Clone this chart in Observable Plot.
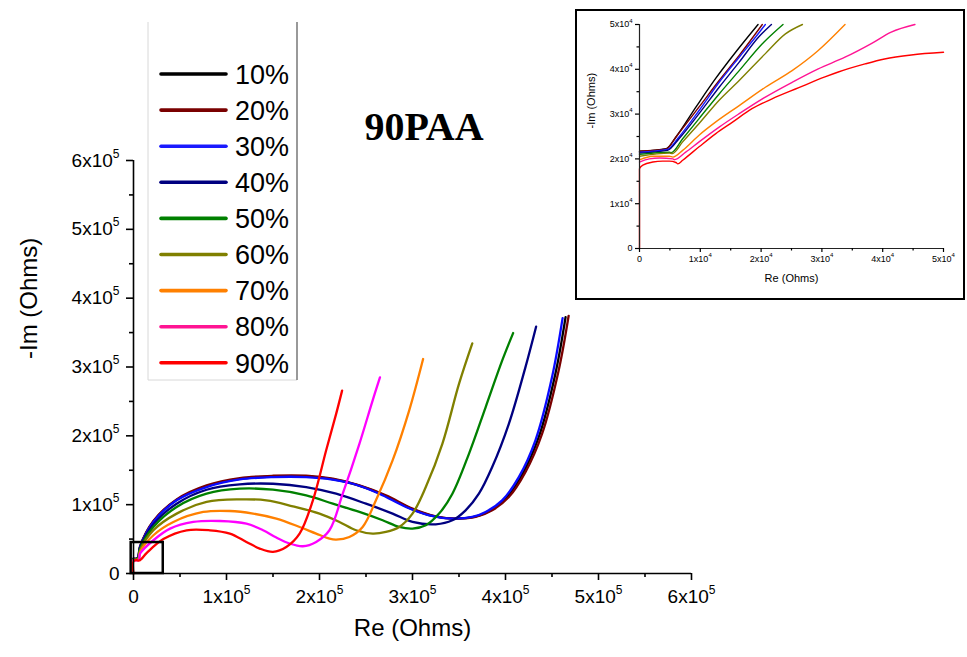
<!DOCTYPE html>
<html><head><meta charset="utf-8">
<script src="https://cdn.jsdelivr.net/npm/d3@7"></script>
<script src="https://cdn.jsdelivr.net/npm/@observablehq/plot@0.6"></script>
<style>
html,body{margin:0;padding:0;background:#fff;}
#wrap{position:relative;width:967px;height:657px;overflow:hidden;font-family:"Liberation Sans",Arial,sans-serif;background:#fff;}
#main{position:absolute;left:0;top:0;}
#overlay{position:absolute;left:0;top:0;pointer-events:none;}
#inset{position:absolute;left:575px;top:9px;width:386px;height:287px;border:2px solid #000;background:#fff;}
</style>
</head><body>
<div id="wrap"><div id="main"></div><svg id="overlay" width="967" height="657"></svg><div id="inset"></div></div>
<script>
// ---------- data ----------
const series = ["10%","20%","30%","40%","50%","60%","70%","80%","90%"];
const legendColors = ["#000000","#7a0000","#1a1aff","#000080","#008000","#808000","#ff8000","#ff1493","#ff0000"];
const mainColors   = ["#000000","#7a0000","#0a0aff","#000080","#008000","#808000","#ff8000","#ff00ff","#ff0000"];

// main chart curves: [Re, -Im] in Ohms
const main10 = [[0,21600],[4500,22200],[7100,39000],[21400,75500],[46400,107000],[78600,126800],[114300,137600],[150000,141000],[185700,141000],[210700,137700],[239300,129200],[267900,114700],[296400,95400],[321400,83800],[344600,79700],[366100,82100],[382100,90600],[400000,108700],[417900,143700],[435700,198000],[453600,290000],[464600,372500]];
const main20 = [[0,21500],[4400,22200],[7100,39600],[21400,76300],[46400,107700],[78600,128000],[114300,138600],[150000,142000],[185700,142000],[214300,137700],[242900,128000],[271400,113500],[300000,94200],[325000,83100],[346400,79700],[367900,82100],[385700,91800],[403600,111100],[421400,147300],[439300,202900],[457100,294700],[467900,374400]];
const main30 = [[0,21500],[4600,22100],[7100,38600],[21400,74900],[46400,106300],[78600,125600],[114300,136700],[150000,140100],[185700,140100],[207100,137700],[235700,130400],[264300,115900],[292900,96600],[317900,84500],[342900,79700],[364300,82100],[378600,89400],[396400,106300],[414300,140100],[432100,193200],[450000,285000],[461400,371000]];
const main40 = [[0,21300],[4600,21900],[7100,37700],[21400,71500],[46400,101400],[78600,121700],[114300,129500],[150000,130400],[185700,125600],[217900,115900],[250000,101400],[278600,87000],[300000,74900],[325000,71500],[342900,77300],[357100,91800],[371400,115900],[385700,154600],[403600,217400],[421400,299500],[432900,358500]];
const main50 = [[0,21000],[4900,21500],[7100,36200],[21400,67600],[46400,96600],[78600,115900],[114300,123200],[150000,121700],[185700,113500],[214300,101400],[242900,89400],[267900,77300],[285700,67600],[300000,65200],[314300,70000],[328600,87000],[342900,115900],[360700,173900],[378600,241500],[396400,309200],[408200,349300]];
const main60 = [[0,20600],[4900,21300],[7100,33800],[21400,62800],[46400,87000],[78600,103900],[114300,107700],[142900,106300],[171400,97600],[200000,87000],[221400,74900],[239300,62800],[257100,58000],[271400,60400],[285700,67600],[300000,87000],[314300,125600],[332100,188400],[350000,275400],[364300,334300]];
const main70 = [[0,19800],[5500,20400],[7100,31400],[21400,55600],[42900,74900],[75000,89400],[103600,90800],[128600,87000],[153600,79700],[178600,67600],[196400,58000],[210700,50700],[217900,49300],[232100,53100],[246400,67600],[260700,106300],[278600,164300],[296400,236700],[311400,311600]];
const main80 = [[0,19300],[5700,19800],[7100,29000],[21400,48300],[39300,65200],[64300,74900],[92900,76300],[121400,72500],[139300,62800],[153600,52200],[167900,43500],[182100,39600],[196400,45900],[210700,62800],[225000,115900],[242900,188400],[257100,251200],[265000,285000]];
const main90 = [[0,0],[0,18000],[3000,19500],[6300,18900],[14300,30000],[32100,50000],[57100,62800],[82100,62800],[103600,58000],[121400,45900],[135700,36200],[150000,31500],[164300,38600],[178600,58000],[192900,106300],[207100,178700],[217900,231900],[224300,265700]];
const mainCurves = [main10,main20,main30,main40,main50,main60,main70,main80,main90];

// inset (zoom of low-frequency region): [Re, -Im] in Ohms
const inset10 = [[0,21700],[4400,22300],[6000,24900],[9300,31600],[12500,37900],[15800,43800],[19500,50000]];
const inset20 = [[0,21700],[4400,22200],[6000,24900],[9800,31600],[13100,37500],[16400,43100],[20200,50000]];
const inset30 = [[0,21500],[4600,22100],[6500,24900],[9800,30800],[13100,37100],[16400,42700],[19100,47200],[20700,50000]];
const inset40 = [[0,21300],[4600,21900],[6500,24500],[9800,30100],[13100,36000],[16400,41600],[19600,47200],[21700,50000]];
const inset50 = [[0,21000],[4900,21500],[5200,21400],[7100,24500],[9800,29000],[13100,34500],[16400,39700],[20200,45700],[23600,50000]];
const inset60 = [[0,20600],[4900,21300],[5400,21200],[7100,23800],[9800,27900],[13100,33100],[16400,37500],[20700,43500],[24000,47900],[26800,50000]];
const inset70 = [[0,19800],[2200,20600],[4900,20600],[5500,20400],[7100,21900],[9800,25300],[12500,28200],[16400,31900],[20700,36000],[25100,39700],[29400,44200],[33800,50000]];
const inset80 = [[0,19300],[1600,20000],[3300,20200],[5500,20000],[5700,19800],[7600,21500],[9800,23800],[13100,27100],[16400,30100],[20700,33800],[25100,37100],[29400,40100],[33800,42700],[38200,45800],[41400,48300],[45300,50000]];
const inset90 = [[0,0],[0,17800],[550,18600],[2200,19300],[3800,19500],[4900,19500],[6000,19200],[6300,18900],[7100,19700],[9800,22700],[12500,25600],[15300,28200],[18500,31200],[21800,33400],[26200,35900],[30500,38300],[32700,39400],[37100,41200],[40300,42300],[44700,43200],[50000,43800]];
const insetCurves = [inset10,inset20,inset30,inset40,inset50,inset60,inset70,inset80,inset90];

// ticks
const mainMajor = [0,100000,200000,300000,400000,500000,600000];
const mainMinor = [50000,150000,250000,350000,450000,550000];
const mainTickLabels = ["0","1x10^5","2x10^5","3x10^5","4x10^5","5x10^5","6x10^5"];
const insetMajor = [0,10000,20000,30000,40000,50000];
const insetMinor = [5000,15000,25000,35000,45000];
const insetTickLabels = ["0","1x10^4","2x10^4","3x10^4","4x10^4","5x10^4"];
// zoom box drawn on main chart (data coords)
const boxRe = [-2500, 32000];
const boxIm = [0, 45000];

// ---------- helpers ----------
function toRows(curves){
  return curves.flatMap((c,i)=>c.map(([x,y],k)=>({s:series[i], x, y, k})));
}
function supify(svg, supSize, dy){
  d3.select(svg).selectAll("text").each(function(){
    const t = this.textContent;
    const m = /^(.*)\^(\d+)$/.exec(t);
    if(!m) return;
    const el = d3.select(this);
    el.text(null);
    el.append("tspan").text(m[1]);
    el.append("tspan").attr("font-size", supSize).attr("dy", dy).text(m[2]);
  });
}

// ---------- main chart ----------
const mainPlot = Plot.plot({
  width:967, height:657,
  marginLeft:133, marginRight:276, marginTop:160, marginBottom:84,
  x:{domain:[0,600000]}, y:{domain:[0,600000]},
  color:{domain:series, range:mainColors},
  style:{fontFamily:"'Liberation Sans', Arial, sans-serif", fontSize:"19px", color:"#000", background:"transparent"},
  marks:[
    Plot.line(toRows(mainCurves), {x:"x", y:"y", z:"s", stroke:"s", strokeWidth:2.3, curve:"catmull-rom"}),
    Plot.rect([{x1:boxRe[0], x2:boxRe[1], y1:boxIm[0], y2:boxIm[1]}], {x1:"x1", x2:"x2", y1:"y1", y2:"y2", fill:"none", stroke:"#000", strokeWidth:2.5}),
    Plot.ruleY([0], {stroke:"#000", strokeWidth:1.6}),
    Plot.ruleX([0], {stroke:"#000", strokeWidth:1.6}),
    Plot.axisX({ticks:mainMajor, tickSize:7, tickPadding:9, strokeWidth:1.6, tickFormat:(d,i)=>mainTickLabels[i], label:null, fontSize:19}),
    Plot.axisX({ticks:mainMinor, tickSize:4, strokeWidth:1.6, tickFormat:()=>"", label:null}),
    Plot.axisY({ticks:mainMajor, tickSize:7, tickPadding:7, strokeWidth:1.6, tickFormat:(d,i)=>mainTickLabels[i], label:null, fontSize:19}),
    Plot.axisY({ticks:mainMinor, tickSize:4, strokeWidth:1.6, tickFormat:()=>"", label:null}),
    Plot.text(["Re (Ohms)"], {frameAnchor:"bottom", dy:62, fontSize:24}),
    Plot.text(["-Im (Ohms)"], {frameAnchor:"left", rotate:-90, dx:-104, dy:-8, fontSize:24})
  ]
});
supify(mainPlot, "12px", "-0.75em");
document.getElementById("main").appendChild(mainPlot);

// ---------- overlay: legend + title ----------
const ov = d3.select("#overlay");
const lg = ov.append("g");
lg.append("rect").attr("x",148).attr("y",22).attr("width",149).attr("height",358).attr("fill","#fff");
lg.append("line").attr("x1",148).attr("x2",148).attr("y1",22).attr("y2",380).attr("stroke","#d8d8d8").attr("stroke-width",1);
lg.append("line").attr("x1",148).attr("x2",297).attr("y1",380).attr("y2",380).attr("stroke","#d8d8d8").attr("stroke-width",1);
lg.append("line").attr("x1",297).attr("x2",297).attr("y1",22).attr("y2",380).attr("stroke","#777").attr("stroke-width",1.5);
const rows = lg.selectAll("g.row").data(series).join("g").attr("class","row")
  .attr("transform",(d,i)=>`translate(0,${74 + i*36.1})`);
rows.append("line").attr("x1",161).attr("x2",226).attr("y1",0).attr("y2",0)
  .attr("stroke",(d,i)=>legendColors[i]).attr("stroke-width",3.6).attr("stroke-linecap","round");
rows.append("text").attr("x",235).attr("y",0).attr("dy","0.36em")
  .attr("font-family","'Liberation Sans', Arial, sans-serif").attr("font-size",27).attr("fill","#000").text(d=>d);
ov.append("text").attr("x",424).attr("y",140).attr("text-anchor","middle")
  .attr("font-family","'Liberation Serif','Times New Roman',serif").attr("font-weight","bold").attr("font-size",40).attr("fill","#000").text("90PAA");

// ---------- inset ----------
const insetPlot = Plot.plot({
  width:386, height:287,
  marginLeft:62, marginRight:20, marginTop:13, marginBottom:50,
  x:{domain:[0,50000]}, y:{domain:[0,50000]},
  color:{domain:series, range:legendColors},
  style:{fontFamily:"'Liberation Sans', Arial, sans-serif", fontSize:"9px", color:"#000", background:"transparent"},
  marks:[
    Plot.line(toRows(insetCurves), {x:"x", y:"y", z:"s", stroke:"s", strokeWidth:1.4, curve:"monotone-x"}),
    Plot.ruleY([0], {stroke:"#222", strokeWidth:1.2}),
    Plot.ruleX([0], {stroke:"#222", strokeWidth:1.2}),
    Plot.axisX({ticks:insetMajor, tickSize:4, tickPadding:3, strokeWidth:1.2, tickFormat:(d,i)=>insetTickLabels[i], label:null, fontSize:9}),
    Plot.axisX({ticks:insetMinor, tickSize:2.5, strokeWidth:1.2, tickFormat:()=>"", label:null}),
    Plot.axisY({ticks:insetMajor, tickSize:4, tickPadding:3, strokeWidth:1.2, tickFormat:(d,i)=>insetTickLabels[i], label:null, fontSize:9}),
    Plot.axisY({ticks:insetMinor, tickSize:2.5, strokeWidth:1.2, tickFormat:()=>"", label:null}),
    Plot.text(["Re (Ohms)"], {frameAnchor:"bottom", dy:33, fontSize:11}),
    Plot.text(["-Im (Ohms)"], {frameAnchor:"left", rotate:-90, dx:-48, dy:-8, fontSize:11})
  ]
});
supify(insetPlot, "6px", "-0.8em");
document.getElementById("inset").appendChild(insetPlot);
</script>
</body></html>
